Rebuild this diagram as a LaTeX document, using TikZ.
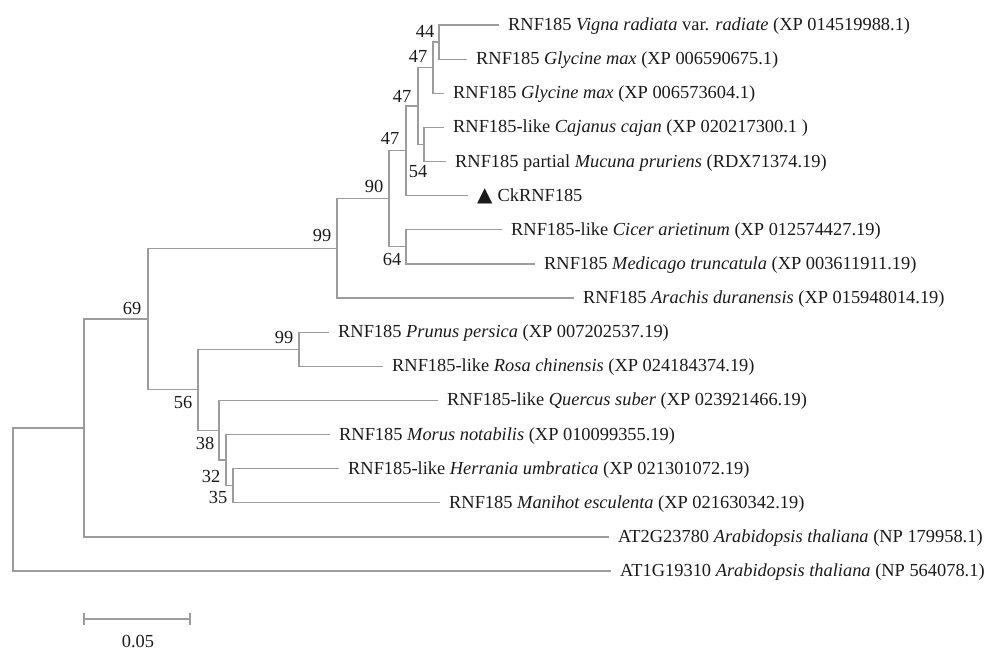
\documentclass[tikz,border=0pt]{standalone}
\usepackage{fontspec}
\setmainfont{Liberation Serif}
\newfontfamily\dejavu{DejaVu Sans}
\definecolor{branch}{HTML}{9C9C9C}
\definecolor{ink}{HTML}{1A1A1A}
\begin{document}
\begin{tikzpicture}[x=1pt,y=-1pt,
  br/.style={draw=branch,line width=1.25pt},
  leaf/.style={anchor=west,inner xsep=9pt,inner ysep=0pt,text=ink,
    font=\fontsize{18.4}{20}\selectfont,text height=12.1pt,text depth=1pt},
  bs/.style={inner sep=0pt,text=ink,font=\fontsize{18.4}{20}\selectfont,
    text height=12.1pt,text depth=0pt}]
\useasboundingbox (0,0) rectangle (989,653);
% internal nodes
\coordinate (n44) at (439,42.06);
\coordinate (n47a) at (433,67.66);
\coordinate (n54) at (424,144.44);
\coordinate (n47b) at (418,106.05);
\coordinate (n47c) at (406,150.84);
\coordinate (n64) at (406,246.81);
\coordinate (n90) at (389,198.83);
\coordinate (n99a) at (337,248.41);
\coordinate (n99b) at (299,349.19);
\coordinate (n35) at (233,485.69);
\coordinate (n32) at (226,460.09);
\coordinate (n38) at (219,430.23);
\coordinate (n56) at (198,389.71);
\coordinate (n69) at (148,319.06);
\coordinate (nA) at (84,427.97);
\coordinate (root) at (13,499.48);
% leaves
\node[leaf] (t1) at (499,25) {RNF185 \textit{Vigna radiata} var. \textit{radiate} (XP 014519988.1)};
\node[leaf] (t2) at (467,59.125) {RNF185 \textit{Glycine max} (XP 006590675.1)};
\node[leaf] (t3) at (444,93.25) {RNF185 \textit{Glycine max} (XP 006573604.1)};
\node[leaf] (t4) at (444,127.375) {RNF185-like \textit{Cajanus cajan} (XP 020217300.1 )};
\node[leaf] (t5) at (446,161.5) {RNF185 partial \textit{Mucuna pruriens} (RDX71374.19)};
\node[leaf] (t6) at (468,195.625) {{\dejavu\fontsize{20}{20}\selectfont ▲}\hspace{5pt}CkRNF185};
\node[leaf] (t7) at (502,229.75) {RNF185-like \textit{Cicer arietinum} (XP 012574427.19)};
\node[leaf] (t8) at (535,263.875) {RNF185 \textit{Medicago truncatula} (XP 003611911.19)};
\node[leaf] (t9) at (574,298) {RNF185 \textit{Arachis duranensis} (XP 015948014.19)};
\node[leaf] (t10) at (329,332.125) {RNF185 \textit{Prunus persica} (XP 007202537.19)};
\node[leaf] (t11) at (383,366.25) {RNF185-like \textit{Rosa chinensis} (XP 024184374.19)};
\node[leaf] (t12) at (438,400.375) {RNF185-like \textit{Quercus suber} (XP 023921466.19)};
\node[leaf] (t13) at (330,434.5) {RNF185 \textit{Morus notabilis} (XP 010099355.19)};
\node[leaf] (t14) at (339,468.625) {RNF185-like \textit{Herrania umbratica} (XP 021301072.19)};
\node[leaf] (t15) at (440,502.75) {RNF185 \textit{Manihot esculenta} (XP 021630342.19)};
\node[leaf] (t16) at (609,536.875) {AT2G23780 \textit{Arabidopsis thaliana} (NP 179958.1)};
\node[leaf] (t17) at (611,571) {AT1G19310 \textit{Arabidopsis thaliana} (NP 564078.1)};
% branches
\draw[br] (n44) |- (t1.west); \draw[br] (n44) |- (t2.west);
\draw[br] (n47a) |- (n44); \draw[br] (n47a) |- (t3.west);
\draw[br] (n54) |- (t4.west); \draw[br] (n54) |- (t5.west);
\draw[br] (n47b) |- (n47a); \draw[br] (n47b) |- (n54);
\draw[br] (n47c) |- (n47b); \draw[br] (n47c) |- (t6.west);
\draw[br] (n64) |- (t7.west); \draw[br] (n64) |- (t8.west);
\draw[br] (n90) |- (n47c); \draw[br] (n90) |- (n64);
\draw[br] (n99a) |- (n90); \draw[br] (n99a) |- (t9.west);
\draw[br] (n99b) |- (t10.west); \draw[br] (n99b) |- (t11.west);
\draw[br] (n35) |- (t14.west); \draw[br] (n35) |- (t15.west);
\draw[br] (n32) |- (t13.west); \draw[br] (n32) |- (n35);
\draw[br] (n38) |- (t12.west); \draw[br] (n38) |- (n32);
\draw[br] (n56) |- (n99b); \draw[br] (n56) |- (n38);
\draw[br] (n69) |- (n99a); \draw[br] (n69) |- (n56);
\draw[br] (nA) |- (n69); \draw[br] (nA) |- (t16.west);
\draw[br] (root) |- (nA); \draw[br] (root) |- (t17.west);
% bootstrap values
\node[bs] (b44) at (425,31) {44};
\node[bs] (b47a) at (418,56) {47};
\node[bs] (b47b) at (402,96) {47};
\node[bs] (b47c) at (390,138) {47};
\node[bs] (b54) at (418,171) {54};
\node[bs] (b90) at (374,186) {90};
\node[bs] (b64) at (392,259) {64};
\node[bs] (b99a) at (322,235) {99};
\node[bs] (b99b) at (284,337) {99};
\node[bs] (b69) at (132,308) {69};
\node[bs] (b56) at (183,402) {56};
\node[bs] (b38) at (205,443) {38};
\node[bs] (b32) at (211,476) {32};
\node[bs] (b35) at (218,497) {35};
% scale bar
\coordinate (sbL) at (84,619);
\coordinate (sbR) at (190,619);
\draw[br] (sbL) -- (sbR);
\draw[br] ([yshift=-6pt]sbL) -- ([yshift=6pt]sbL);
\draw[br] ([yshift=-6pt]sbR) -- ([yshift=6pt]sbR);
\node[bs] (sbt) at (138,641) {0.05};
\end{tikzpicture}
\end{document}
